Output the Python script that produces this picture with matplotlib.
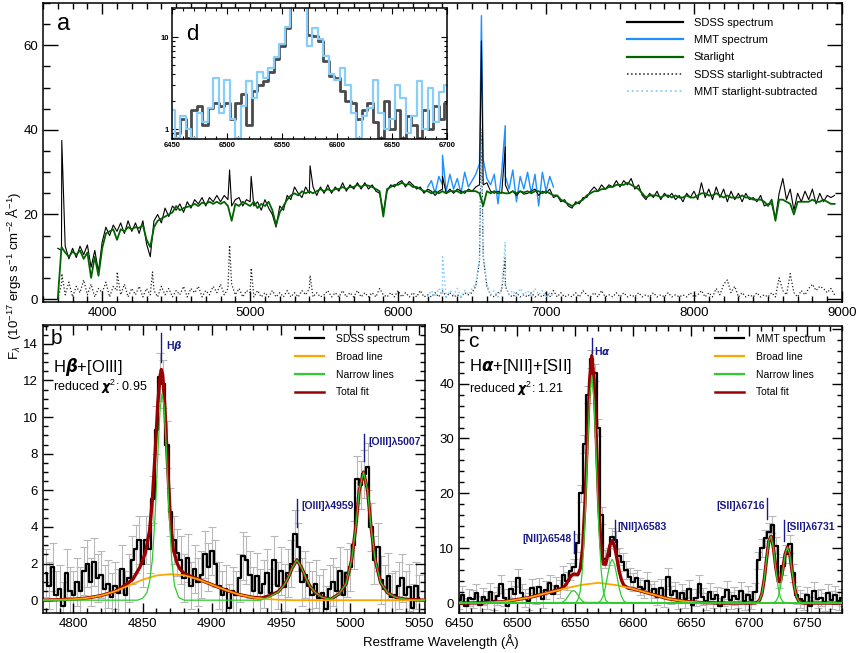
import numpy as np
import matplotlib
matplotlib.use("Agg")
import matplotlib.pyplot as plt
from matplotlib.lines import Line2D
from matplotlib.ticker import MultipleLocator, LogLocator, NullFormatter, FixedLocator

plt.rcParams['font.family'] = ['Liberation Sans', 'DejaVu Sans']
plt.rcParams['mathtext.fontset'] = 'custom'
plt.rcParams['mathtext.rm'] = 'Liberation Sans'
plt.rcParams['mathtext.it'] = 'Liberation Sans:italic'
plt.rcParams['mathtext.bf'] = 'Liberation Sans:bold'
plt.rcParams['axes.linewidth'] = 1.1

# ---------------- panel a : full spectrum (25 A grid from 3700 A) ----------------
a_start, a_step = 3700, 25
sdss_flux = [
    12.0, 11.5, 12.5, 9.5, 12.0, 9.8, 12.5, 10.5,
    12.8, 7.5, 11.5, 6.5, 13.5, 17.0, 15.0, 17.5,
    16.0, 18.0, 15.5, 18.5, 16.0, 18.0, 15.5, 18.5,
    13.0, 10.0, 18.5, 20.0, 18.0, 21.5, 19.5, 22.0,
    21.0, 22.5, 20.5, 23.0, 21.5, 23.5, 22.5, 24.0,
    22.0, 24.0, 23.0, 24.5, 23.0, 24.5, 23.5, 22.0,
    23.5, 24.0, 22.0, 23.5, 23.0, 22.0, 23.0, 21.0,
    23.5, 21.5, 20.0, 17.0, 22.0, 21.0, 24.5, 23.5,
    26.5, 25.0, 24.0, 26.5, 25.0, 26.5, 24.5, 26.5,
    25.0, 27.0, 25.0, 26.5, 25.5, 27.5, 25.5, 27.0,
    26.0, 27.5, 26.0, 27.5, 26.0, 27.0, 25.5, 25.0,
    20.5, 25.5, 27.0, 26.5, 27.5, 28.0, 26.5, 27.8,
    27.0, 26.0, 26.5, 25.0, 26.0, 25.5, 24.5, 25.5,
    26.0, 25.0, 26.0, 25.0, 26.0, 25.5, 25.0, 26.0,
    25.5, 26.5, 27.0, 27.0, 27.5, 25.5, 25.0, 25.5,
    25.0, 27.0, 25.0, 25.5, 24.5, 25.5, 24.8, 25.0,
    25.5, 26.0, 24.5, 25.5, 25.0, 26.0, 24.0, 24.5,
    23.0, 23.5, 22.0, 21.5, 23.0, 22.5, 24.0, 24.0,
    25.5, 26.5, 25.5, 27.0, 26.0, 27.0, 26.5, 28.0,
    26.5, 28.0, 27.0, 28.5, 26.0, 27.0, 24.5, 23.5,
    25.0, 24.0, 25.5, 23.5, 25.0, 24.0, 25.0, 23.5,
    24.5, 23.0, 25.0, 24.0, 25.5, 23.5, 27.5, 24.0,
    26.0, 23.5, 26.5, 24.0, 26.0, 23.0, 25.5, 23.5,
    25.0, 23.0, 25.0, 23.5, 24.0, 23.0, 24.5, 22.0,
    22.5, 22.5, 19.0, 25.0, 28.5, 23.5, 26.0, 21.0,
    25.0, 23.0, 25.5, 23.5, 26.0, 22.5, 25.0, 23.0,
    24.5, 24.0, 24.5,
]
star_flux = [
    0.0, 12.3, 11.0, 10.0, 11.2, 10.5, 11.5, 9.5,
    11.0, 5.0, 10.0, 5.5, 12.0, 15.5, 16.0, 16.5,
    14.0, 16.5, 16.0, 17.0, 16.5, 17.0, 16.8, 17.5,
    14.0, 12.3, 17.0, 18.5, 19.0, 19.5, 20.0, 20.5,
    22.0, 21.0, 21.5, 21.8, 22.0, 22.5, 22.0, 22.8,
    22.5, 23.0, 22.5, 23.0, 22.5, 23.0, 22.0, 18.5,
    22.5, 22.0, 23.0, 22.5, 22.0, 23.0, 21.5, 22.5,
    22.0, 23.0, 21.0, 17.5, 20.5, 22.0, 23.5, 24.5,
    25.0, 24.5, 25.5, 25.0, 25.5, 25.0, 25.5, 26.0,
    25.5, 26.0, 25.5, 26.0, 26.0, 26.5, 26.0, 26.5,
    26.5, 27.0, 26.5, 27.0, 26.8, 26.5, 26.0, 25.5,
    19.5, 26.0, 26.5, 27.0, 27.0, 27.5, 27.0, 27.2,
    26.5, 26.5, 26.0, 25.5, 25.5, 25.0, 25.5, 25.0,
    25.5, 25.0, 25.5, 25.5, 25.5, 25.0, 25.5, 25.5,
    25.5, 25.5, 25.0, 22.0, 25.5, 25.0, 25.5, 25.0,
    25.2, 25.0, 25.0, 25.5, 25.0, 25.5, 25.2, 25.5,
    25.0, 25.5, 25.5, 25.0, 25.5, 25.0, 24.5, 24.5,
    23.5, 23.0, 22.5, 22.0, 22.5, 23.0, 23.5, 24.5,
    25.0, 25.5, 25.5, 26.0, 26.0, 26.5, 26.5, 27.0,
    27.0, 27.0, 27.5, 27.0, 26.5, 26.0, 25.0, 24.0,
    24.5, 24.5, 24.5, 24.0, 24.5, 24.5, 24.0, 24.5,
    24.0, 24.0, 24.5, 24.0, 24.0, 24.5, 25.0, 25.0,
    24.5, 24.5, 25.0, 24.5, 24.0, 24.5, 24.0, 24.0,
    24.0, 24.5, 24.0, 24.0, 23.5, 23.5, 23.5, 23.0,
    22.0, 23.5, 18.5, 23.5, 23.5, 23.0, 22.5, 20.0,
    23.0, 23.0, 23.0, 23.0, 23.5, 23.0, 23.0, 23.5,
    23.0, 22.5, 22.5,
]
sdss_sub = [
    0.0, 3.5, 1.0, 4.0, 0.5, 3.0, 1.5, 4.5,
    1.0, 3.5, 0.5, 2.5, 1.5, 4.0, 0.5, 3.0,
    2.0, 1.0, 3.5, 0.5, 2.5, 1.0, 3.0, 0.5,
    2.5, 1.0, 2.0, 0.5, 3.0, 1.0, 2.5, 0.5,
    2.0, 1.0, 3.0, 0.5, 2.5, 1.5, 3.0, 0.5,
    2.0, 1.0, 3.0, 1.5, 3.5, 1.0, 2.5, 3.5,
    1.0, 2.5, 0.5, 2.0, 1.5, 0.5, 2.0, 0.5,
    1.5, 0.5, 2.0, 0.5, 1.5, 0.5, 2.0, 0.5,
    1.5, 0.5, 2.0, 1.0, 2.5, 0.5, 1.5, 0.5,
    1.0, 2.0, 0.5, 1.5, 0.5, 2.0, 0.5, 1.5,
    0.5, 2.0, 0.5, 1.5, 0.5, 1.5, 0.5, 2.5,
    1.0, 0.5, 1.5, 0.5, 2.0, 0.5, 1.5, 0.5,
    1.5, 0.5, 2.0, 0.5, 1.0, 0.5, 1.5, 0.5,
    2.0, 0.5, 1.5, 0.5, 1.0, 0.5, 1.5, 1.0,
    1.5, 3.0, 9.0, 10.0, 3.0, 1.0, 0.5, 1.5,
    2.0, 3.0, 1.0, 0.5, 1.5, 0.5, 1.0, 0.5,
    1.5, 0.5, 1.0, 0.5, 1.5, 0.5, 2.0, 0.5,
    1.5, 0.5, 1.0, 0.5, 1.5, 0.5, 2.0, 1.0,
    0.5, 1.5, 0.5, 2.0, 0.5, 1.0, 0.5, 1.5,
    0.5, 1.5, 0.5, 1.0, 0.5, 1.5, 0.5, 1.0,
    0.5, 1.5, 0.5, 1.0, 0.5, 1.5, 0.5, 1.0,
    0.5, 1.0, 0.5, 1.5, 0.5, 1.0, 2.0, 0.5,
    1.5, 0.5, 2.5, 1.0, 3.5, 4.5, 1.5, 3.0,
    0.5, 1.5, 0.5, 1.0, 0.5, 1.5, 0.5, 1.0,
    0.5, 1.5, 0.5, 5.0, 2.0, 1.0, 6.0, 1.5,
    0.5, 2.0, 1.0, 2.5, 3.5, 2.0, 3.0, 2.5,
    1.5, 2.5, 1.0,
]
mmt_start = 6200
mmt_flux = [
    26.5, 28.0, 25.0, 29.0, 27.0, 25.5, 29.5, 26.0,
    28.5, 25.0, 30.0, 26.5, 28.0, 29.5, 32.0, 33.0,
    28.5, 27.0, 29.5, 22.5, 30.0, 29.0, 26.0, 30.5,
    23.0, 29.0, 26.0, 30.0, 25.0, 29.5, 22.0, 30.0,
    25.5, 29.0, 26.5,
]
mmt_sub = [
    0.5, 2.0, 0.5, 2.5, 1.0, 0.5, 2.0, 1.0,
    2.5, 0.5, 2.0, 1.0, 2.5, 3.5, 9.5, 10.5,
    3.5, 1.0, 2.0, 0.5, 2.5, 3.5, 1.0, 2.0,
    0.5, 2.5, 1.0, 2.0, 0.5, 2.5, 1.0, 2.0,
    0.5, 1.5, 0.5,
]
# narrow emission spikes (peak values)
sdss_line_wave = [3727, 4861, 5007, 5405, 6300, 6563, 6724]
sdss_line_flux = [37.5, 30.5, 29.0, 31.5, 29.0, 61.0, 36.0]
mmt_line_wave = [6300, 6563, 6724]
mmt_line_flux = [34.0, 67.0, 41.0]
sdss_sub_line_wave = [3727, 4101, 4340, 4861, 5007, 5405, 6563, 6724]
sdss_sub_line_flux = [6.0, 6.4, 6.4, 12.7, 7.3, 5.6, 40.0, 10.0]
mmt_sub_line_wave = [6300, 6563, 6724]
mmt_sub_line_flux = [10.0, 40.5, 13.5]

# ---------------- panel d : inset around H-alpha (5 A grid) ----------------
d_start, d_step = 6450, 5
d_sdss = [
    0.7, 0.9, 1.3, 0.8, 1.6, 1.8, 1.1, 1.7, 1.9, 1.8,
    1.9, 1.3, 1.9, 2.4, 1.1, 2.6, 3.0, 3.3, 4.2, 5.8,
    8.0, 12.5, 25.0, 40.0, 25.0, 10.5, 10.2, 9.0, 5.5, 3.8,
    3.6, 2.6, 2.0, 1.9, 1.3, 1.6, 1.9, 1.2, 0.8, 2.0,
    1.0, 1.6, 0.8, 1.4, 1.1, 0.8, 1.6, 1.0, 1.8, 1.3,
    1.9,
]
d_mmt = [
    1.6, 0.8, 1.4, 1.0, 0.8, 1.5, 1.2, 1.7, 3.6, 1.5,
    3.4, 1.3, 0.8, 1.8, 3.3, 2.2, 4.2, 3.6, 4.6, 6.0,
    8.5, 13.0, 30.0, 40.0, 22.0, 8.0, 12.5, 9.5, 6.2, 4.0,
    3.4, 4.6, 3.0, 1.5, 0.8, 1.4, 1.7, 3.4, 1.5, 1.0,
    1.3, 3.0, 2.2, 0.9, 1.4, 3.3, 1.0, 2.8, 1.2, 2.5,
    3.0,
]

# ---------------- panel b : Hbeta + [OIII] (SDSS, 2.5 A grid) ----------------
b_start, b_step = 4780, 2.5
b_flux = [
    1.5, 0.8, 1.8, 0.3, 0.6, -0.3, 1.5, 0.5,
    0.3, 1.0, 0.5, 1.6, 2.0, 1.0, 2.1, 1.2,
    1.4, 0.6, 0.9, 0.2, 0.8, 0.4, 1.7, 0.3,
    1.2, 2.2, 2.8, 3.3, 2.0, 3.3, 2.8, 5.5,
    9.3, 12.2, 11.8, 8.5, 4.8, 3.3, 2.6, 2.2,
    1.2, 2.3, 0.8, 1.7, 1.0, 1.4, 2.5, 1.8,
    2.7, 2.0, 0.8, 0.3, 0.6, -0.4, 0.5, 0.3,
    1.2, 2.4, 2.2, 1.4, 0.5, 1.3, 0.4, 0.9,
    1.5, 0.4, 2.2, 0.8, 1.6, 0.7, 1.5, 2.0,
    3.6, 2.9, 1.0, 1.4, 0.8, 0.3, 0.9, 0.1,
    0.4, -0.5, 0.6, 1.0, 0.5, 1.6, 0.3, 1.5,
    1.8, 3.0, 6.6, 6.3, 6.9, 7.3, 4.0, 2.2,
    2.9, 1.1, 0.6, 1.3, 0.2, 0.3, 0.8, 1.2,
    0.3, 0.7, -0.4, 0.8, 0.1,
]
b_err = 1.3
broad_b_wave = [4778, 4800, 4810, 4820, 4830, 4840, 4850, 4860, 4870, 4880,
                4890, 4900, 4910, 4920, 4930, 4940, 4950, 4960, 5054]
broad_b_flux = [0.0, 0.05, 0.12, 0.25, 0.48, 0.8, 1.12, 1.35, 1.42, 1.36,
                1.14, 0.85, 0.55, 0.3, 0.14, 0.06, 0.02, 0.0, 0.0]
narrow_b_wave = [4778, 4846, 4850, 4853, 4855, 4857, 4859, 4861, 4862.5, 4864,
                 4865.5, 4867, 4869, 4871, 4873, 4876, 4880, 4935, 4942, 4948,
                 4952, 4955, 4958, 4961.5, 4965, 4968, 4971, 4975, 4980, 4986,
                 4992, 4997, 5001, 5004, 5006.5, 5009.6, 5012.5, 5015, 5018, 5022,
                 5027, 5033, 5040, 5054]
narrow_b_flux = [0.0, 0.0, 0.1, 0.4, 1.0, 2.2, 4.6, 8.0, 10.3, 11.3,
                 10.6, 8.4, 4.9, 2.2, 0.8, 0.15, 0.0, 0.0, 0.2, 0.45,
                 0.8, 1.2, 1.75, 2.2, 1.75, 1.2, 0.75, 0.4, 0.15, 0.05,
                 0.35, 0.9, 2.2, 4.0, 6.0, 7.0, 6.0, 4.0, 2.2, 0.95,
                 0.4, 0.15, 0.05, 0.0]
total_b_wave = [4778, 4800, 4810, 4820, 4830, 4838, 4843, 4848, 4852, 4855,
                4857, 4859, 4861, 4862.5, 4863.5, 4864.5, 4866, 4868, 4870, 4872,
                4875, 4877, 4880, 4890, 4900, 4910, 4920, 4930, 4936, 4942,
                4948, 4952, 4955, 4958, 4961.5, 4965, 4968, 4971, 4975, 4980,
                4986, 4992, 4997, 5001, 5004, 5006.5, 5009.6, 5012.5, 5015, 5018,
                5022, 5027, 5033, 5040, 5054]
total_b_flux = [0.0, 0.05, 0.12, 0.25, 0.48, 0.85, 1.15, 1.8, 2.6, 3.8,
                5.5, 8.0, 10.8, 12.2, 12.6, 12.3, 10.6, 7.4, 4.5, 2.8,
                2.0, 1.7, 1.45, 1.15, 0.85, 0.55, 0.3, 0.15, 0.12, 0.25,
                0.47, 0.81, 1.2, 1.75, 2.2, 1.75, 1.2, 0.75, 0.4, 0.15,
                0.05, 0.35, 0.9, 2.2, 4.0, 6.0, 7.0, 6.0, 4.0, 2.2,
                0.95, 0.4, 0.15, 0.05, 0.0]
b_mark_wave = [4863.5, 4961.5, 5009.6]
b_mark_lo = [13.0, 4.0, 7.6]
b_mark_hi = [14.6, 5.5, 9.1]
b_mark_text_y = [13.9, 5.15, 8.65]
b_mark_label = [r'H$\boldsymbol{\beta}$', '[OIII]λ4959', '[OIII]λ5007']

# ---------------- panel c : Halpha + [NII] + [SII] (MMT, 3 A grid) ----------------
c_start, c_step = 6450, 3
c_flux = [
    0.5, 1.5, -0.6, 1.0, 0.8, 1.8, -0.3, 1.2, 0.6, 2.0,
    0.4, 1.3, 3.5, 1.0, -0.5, 2.5, 1.6, 4.6, 1.8, 0.9,
    0.3, 2.8, 1.5, 3.0, 0.8, 2.4, 3.6, 1.7, 3.2, 2.6,
    5.2, 4.0, 5.8, 6.5, 11.0, 20.0, 29.0, 38.0, 44.5, 42.0,
    32.0, 16.0, 8.0, 8.5, 12.0, 11.5, 8.5, 7.5, 6.0, 4.8,
    3.8, 4.5, 3.0, 2.6, 4.0, 1.8, 2.5, 1.2, 2.8, 0.9,
    4.8, 1.5, 2.2, 0.5, 1.8, 0.8, 2.6, -0.4, 1.0, 3.5,
    1.2, 0.3, 2.0, 0.7, 1.4, -0.6, 1.1, 2.4, 0.5, 1.3,
    0.8, 2.2, 0.3, 1.5, 0.6, 2.0, 7.8, 10.0, 11.8, 13.0,
    14.3, 10.5, 4.3, 6.8, 9.0, 10.8, 5.5, 1.5, 0.8, 0.3,
    1.4, -0.5, 2.2, 0.8, 1.0, 0.2, 1.8, 0.6, 1.5, 0.4,
    1.0,
]
c_err = 1.6
broad_c_wave = [6450, 6470, 6490, 6510, 6525, 6540, 6555, 6570, 6585, 6600,
                6615, 6630, 6645, 6660, 6680, 6780]
broad_c_flux = [0.0, 0.05, 0.3, 1.0, 1.8, 2.6, 3.3, 3.7, 3.3, 2.6,
                1.7, 0.8, 0.3, 0.08, 0.0, 0.0]
ha_n_wave = [6450, 6548, 6550.4, 6552.4, 6554.4, 6556.4, 6558.4, 6560.4, 6562.4, 6564.4,
             6566.4, 6568.4, 6570.4, 6572.4, 6574.4, 6576.4, 6578.4, 6581, 6780]
ha_n_flux = [0.0, 0.0, 0.12, 0.57, 2.1, 6.2, 14.2, 25.8, 36.8, 41.5,
             36.8, 25.8, 14.2, 6.2, 2.1, 0.57, 0.12, 0.0, 0.0]
n2a_wave = [6450, 6538.5, 6540.5, 6542.5, 6544.5, 6546.5, 6548.5, 6550.5, 6552.5,
            6554.5, 6556.5, 6558.5, 6780]
n2a_flux = [0.0, 0.12, 0.34, 0.79, 1.43, 2.04, 2.3, 2.04, 1.43, 0.79, 0.34, 0.12, 0.0]
n2b_wave = [6450, 6570, 6572, 6574, 6576, 6578, 6580, 6582, 6584, 6586,
            6588, 6590, 6592, 6594, 6780]
n2b_flux = [0.0, 0.11, 0.41, 1.2, 2.75, 5.0, 7.1, 8.0, 7.1, 5.0,
            2.75, 1.2, 0.41, 0.11, 0.0]
s2a_wave = [6450, 6705, 6707, 6709, 6711, 6713, 6715, 6717, 6719, 6721,
            6723, 6725, 6727, 6729, 6731, 6733, 6780]
s2a_flux = [0.0, 0.02, 0.13, 0.54, 1.75, 4.32, 8.05, 11.38, 12.19, 9.9,
            6.1, 2.85, 1.0, 0.27, 0.06, 0.0, 0.0]
s2b_wave = [6450, 6719, 6721, 6723, 6725, 6727, 6729, 6731, 6733, 6735,
            6737, 6739, 6741, 6743, 6745, 6747, 6780]
s2b_flux = [0.0, 0.01, 0.07, 0.32, 1.11, 2.93, 5.86, 8.88, 10.2, 8.88,
            5.86, 2.93, 1.11, 0.32, 0.07, 0.01, 0.0]
total_c_wave = [6450, 6470, 6490, 6510, 6525, 6536, 6540.5, 6542.5, 6544.5, 6546.5,
                6548.5, 6550.5, 6552.5, 6554.5, 6556.5, 6558.5, 6560.5, 6562.5, 6564.4, 6566.4,
                6568.4, 6570.4, 6572.4, 6574.4, 6576.4, 6578.4, 6580, 6582, 6584, 6586,
                6588, 6590, 6592, 6596, 6600, 6615, 6630, 6645, 6660, 6680,
                6705, 6707, 6709, 6711, 6713, 6715, 6717, 6719, 6721, 6723,
                6725, 6727, 6729, 6731, 6733, 6735, 6737, 6739, 6741, 6743,
                6745, 6747, 6780]
total_c_flux = [0.0, 0.05, 0.3, 1.0, 1.8, 2.45, 2.96, 3.5, 4.25, 4.95,
                5.3, 5.27, 5.2, 6.27, 10.1, 18.1, 29.7, 40.5, 45.1, 40.45,
                29.5, 18.05, 10.35, 7.1, 7.1, 9.0, 10.55, 11.4, 10.45, 8.2,
                5.85, 4.2, 3.26, 2.7, 2.6, 1.7, 0.8, 0.3, 0.08, 0.0,
                0.02, 0.13, 0.54, 1.75, 4.32, 8.05, 11.38, 12.2, 9.97, 6.42,
                3.96, 3.93, 6.13, 8.94, 10.2, 8.88, 5.86, 2.93, 1.11, 0.32,
                0.07, 0.01, 0.0]
c_mark_wave = [6564.4, 6549.1, 6584.5, 6715.8, 6730.2]
c_mark_lo = [45.6, 9.1, 11.1, 15.3, 11.3]
c_mark_hi = [48.4, 13.1, 15.1, 19.2, 15.1]
c_mark_text_y = [46.0, 11.6, 13.8, 17.75, 13.8]
c_mark_side = [1, -1, 1, -1, 1]
c_mark_label = [r'H$\boldsymbol{\alpha}$', '[NII]λ6548', '[NII]λ6583', '[SII]λ6716', '[SII]λ6731']

NAVY = '#1a1a8a'
RED = '#9a0000'
ORANGE = '#ffa500'
GREEN = '#2ecc2e'
MMT_BLUE = '#1e90ff'
SKY = '#87cefa'


def merge_lines(wave, flux, line_wave, line_flux):
    w = np.concatenate([np.asarray(wave, float), np.asarray(line_wave, float)])
    f = np.concatenate([np.asarray(flux, float), np.asarray(line_flux, float)])
    order = np.argsort(w, kind='stable')
    return w[order], f[order]


def style_ticks(ax, xmaj, xmin, ymaj, ymin, xlen=(6, 3), ylen=(6, 3), size=9.5):
    ax.xaxis.set_major_locator(MultipleLocator(xmaj))
    ax.xaxis.set_minor_locator(MultipleLocator(xmin))
    ax.yaxis.set_major_locator(MultipleLocator(ymaj))
    ax.yaxis.set_minor_locator(MultipleLocator(ymin))
    ax.tick_params(which='both', direction='in', top=True, right=True, width=1.0,
                   labelsize=size)
    ax.tick_params(axis='x', which='major', length=xlen[0])
    ax.tick_params(axis='x', which='minor', length=xlen[1])
    ax.tick_params(axis='y', which='major', length=ylen[0])
    ax.tick_params(axis='y', which='minor', length=ylen[1])


fig = plt.figure(figsize=(8.58, 6.53), dpi=100)
W, H = 858.0, 653.0


def px_axes(left, top, right, bottom):
    return fig.add_axes([left / W, 1 - bottom / H, (right - left) / W, (bottom - top) / H])


# ======================= panel a =======================
ax_a = px_axes(43, 3, 842, 302)
a_wave = a_start + a_step * np.arange(len(sdss_flux))
m_wave = mmt_start + a_step * np.arange(len(mmt_flux))

w, f = merge_lines(a_wave, sdss_sub, sdss_sub_line_wave, sdss_sub_line_flux)
ax_a.plot(w, f, ls=':', color='#222222', lw=0.9, zorder=2)
w, f = merge_lines(m_wave, mmt_sub, mmt_sub_line_wave, mmt_sub_line_flux)
ax_a.plot(w, f, ls=':', color=SKY, lw=1.1, zorder=2)
w, f = merge_lines(m_wave, mmt_flux, mmt_line_wave, mmt_line_flux)
ax_a.plot(w, f, color=MMT_BLUE, lw=1.0, zorder=3)
w, f = merge_lines(a_wave, sdss_flux, sdss_line_wave, sdss_line_flux)
ax_a.plot(w, f, color='black', lw=0.8, zorder=4)
ax_a.plot(a_wave, star_flux, color='#006400', lw=1.3, zorder=5)

ax_a.set_xlim(3600, 9000)
ax_a.set_ylim(-0.7, 70)
style_ticks(ax_a, 1000, 100, 20, 5, xlen=(8, 4), ylen=(11, 5))
ax_a.text(0.018, 0.93, 'a', transform=ax_a.transAxes, fontsize=17, va='center')

a_handles = [Line2D([], [], color='black', lw=1.6),
             Line2D([], [], color=MMT_BLUE, lw=1.6),
             Line2D([], [], color='#006400', lw=1.6),
             Line2D([], [], color='#222222', lw=1.1, ls=':'),
             Line2D([], [], color=SKY, lw=1.3, ls=':')]
a_labels = ['SDSS spectrum', 'MMT spectrum', 'Starlight',
            'SDSS starlight-subtracted', 'MMT starlight-subtracted']
ax_a.legend(a_handles, a_labels,
            loc='upper left', bbox_to_anchor=(627 / W, 1 - 18 / H), bbox_transform=fig.transFigure,
            frameon=False, fontsize=8, handlelength=5.0, handletextpad=1.0,
            labelspacing=0.65, borderpad=0, borderaxespad=0)

# ======================= inset d =======================
ax_d = px_axes(172, 8, 447, 139)
d_wave = d_start + d_step * np.arange(len(d_sdss))
ax_d.plot(d_wave, d_sdss, drawstyle='steps-mid', color='#4a4a4a', lw=2.0)
ax_d.plot(d_wave, d_mmt, drawstyle='steps-mid', color=SKY, lw=1.6)
ax_d.set_yscale('log')
ax_d.set_xlim(6450, 6700)
ax_d.set_ylim(0.78, 20.7)
ax_d.xaxis.set_major_locator(MultipleLocator(50))
ax_d.xaxis.set_minor_locator(MultipleLocator(10))
ax_d.yaxis.set_major_locator(FixedLocator([1, 10]))
ax_d.yaxis.set_minor_locator(LogLocator(base=10, subs=np.arange(2, 10)))
ax_d.yaxis.set_minor_formatter(NullFormatter())
ax_d.set_yticklabels(['1', '10'])
ax_d.tick_params(which='both', direction='in', top=True, right=True, width=0.8,
                 labelsize=5.5, pad=2)
ax_d.tick_params(which='major', length=4)
ax_d.tick_params(which='minor', length=2)
for lab in ax_d.get_xticklabels() + ax_d.get_yticklabels():
    lab.set_fontweight('bold')
ax_d.text(0.05, 0.8, 'd', transform=ax_d.transAxes, fontsize=16, va='center')


def spectrum_panel(ax, wave, flux, err):
    ax.errorbar(wave, flux, yerr=err, fmt='none', ecolor='#b8b8b8', elinewidth=0.8,
                capsize=3.2, capthick=0.8, zorder=1)
    ax.plot(wave, flux, drawstyle='steps-mid', color='black', lw=1.6, zorder=2)


def fit_handles():
    return [Line2D([], [], color='black', lw=1.6),
            Line2D([], [], color=ORANGE, lw=1.6),
            Line2D([], [], color=GREEN, lw=1.6),
            Line2D([], [], color=RED, lw=1.8)]


# ======================= panel b =======================
ax_b = px_axes(43, 325, 425, 613)
b_wave = b_start + b_step * np.arange(len(b_flux))
spectrum_panel(ax_b, b_wave, b_flux, b_err)
ax_b.plot(total_b_wave, total_b_flux, color=RED, lw=2.4, zorder=3)
ax_b.plot(broad_b_wave, broad_b_flux, color=ORANGE, lw=1.3, zorder=4)
ax_b.plot(narrow_b_wave, narrow_b_flux, color=GREEN, lw=0.9, zorder=5)
for wv, lo, hi, ty, lab in zip(b_mark_wave, b_mark_lo, b_mark_hi, b_mark_text_y, b_mark_label):
    ax_b.plot([wv, wv], [lo, hi], color=NAVY, lw=1.0, zorder=6)
    ax_b.text(wv + 3.5, ty, lab, color=NAVY, fontsize=7.5, fontweight='bold', va='center')
ax_b.set_xlim(4778, 5054)
ax_b.set_ylim(-0.7, 15.03)
style_ticks(ax_b, 50, 10, 2, 0.5, xlen=(7, 3.5), ylen=(7, 3.5))
ax_b.text(0.02, 0.985, 'b', transform=ax_b.transAxes, fontsize=15, va='top')
ax_b.text(0.025, 0.855, r'H$\boldsymbol{\beta}$+[OIII]', transform=ax_b.transAxes,
          fontsize=12, va='center')
ax_b.text(0.025, 0.785, r'reduced $\boldsymbol{\chi}^2$: 0.95', transform=ax_b.transAxes,
          fontsize=9, va='center')
ax_b.legend(fit_handles(), ['SDSS spectrum', 'Broad line', 'Narrow lines', 'Total fit'],
            loc='upper left', bbox_to_anchor=(295 / W, 1 - 334 / H), bbox_transform=fig.transFigure,
            frameon=False, fontsize=7.5, handlelength=2.8, handletextpad=1.1,
            labelspacing=0.75, borderpad=0, borderaxespad=0)

# ======================= panel c =======================
ax_c = px_axes(459, 326, 842, 613)
c_wave = c_start + c_step * np.arange(len(c_flux))
spectrum_panel(ax_c, c_wave, c_flux, c_err)
ax_c.plot(total_c_wave, total_c_flux, color=RED, lw=2.4, zorder=3)
ax_c.plot(broad_c_wave, broad_c_flux, color=ORANGE, lw=1.3, zorder=4)
for nw, nf in [(ha_n_wave, ha_n_flux), (n2a_wave, n2a_flux), (n2b_wave, n2b_flux),
               (s2a_wave, s2a_flux), (s2b_wave, s2b_flux)]:
    ax_c.plot(nw, nf, color=GREEN, lw=0.9, zorder=5)
for wv, lo, hi, ty, side, lab in zip(c_mark_wave, c_mark_lo, c_mark_hi, c_mark_text_y,
                                     c_mark_side, c_mark_label):
    ax_c.plot([wv, wv], [lo, hi], color=NAVY, lw=1.0, zorder=6)
    ax_c.text(wv + 2.3 * side, ty, lab, color=NAVY, fontsize=7.5, fontweight='bold',
              va='center', ha='left' if side > 0 else 'right')
ax_c.set_xlim(6450, 6780)
ax_c.set_ylim(-1.8, 50.5)
style_ticks(ax_c, 50, 10, 10, 2, xlen=(7, 3.5), ylen=(7, 3.5))
ax_c.text(0.025, 0.945, 'c', transform=ax_c.transAxes, fontsize=15, va='center')
ax_c.text(0.025, 0.86, r'H$\boldsymbol{\alpha}$+[NII]+[SII]', transform=ax_c.transAxes,
          fontsize=12, va='center')
ax_c.text(0.025, 0.78, r'reduced $\boldsymbol{\chi}^2$: 1.21', transform=ax_c.transAxes,
          fontsize=9, va='center')
ax_c.legend(fit_handles(), ['MMT spectrum', 'Broad line', 'Narrow lines', 'Total fit'],
            loc='upper left', bbox_to_anchor=(715 / W, 1 - 334 / H), bbox_transform=fig.transFigure,
            frameon=False, fontsize=7.5, handlelength=2.8, handletextpad=1.1,
            labelspacing=0.75, borderpad=0, borderaxespad=0)

# shared labels
fig.text(14 / W, 1 - 276 / H,
         r'F$_\lambda$  (10$^{-17}$ ergs s$^{-1}$ cm$^{-2}$ Å$^{-1}$)',
         rotation=90, ha='center', va='center', fontsize=9.5)
fig.text(441 / W, 1 - 642 / H, 'Restframe Wavelength (Å)', ha='center', va='center',
         fontsize=9.5)

fig.savefig('out.png', dpi=100)
